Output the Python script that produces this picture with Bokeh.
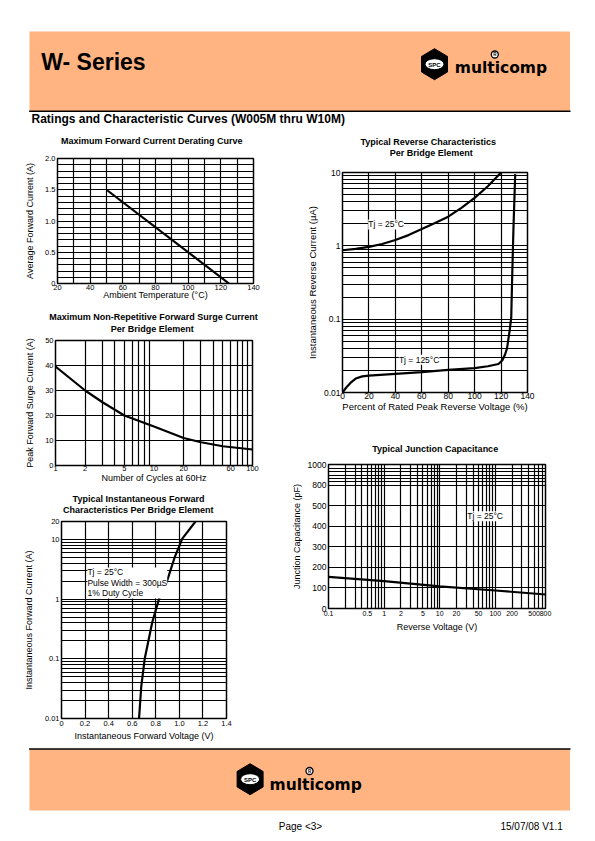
from bokeh.plotting import figure
from bokeh.layouts import column, row
from bokeh.models import FixedTicker, Label, Range1d, CustomJSTickFormatter
from bokeh.core.properties import value
from bokeh.embed import file_html
from bokeh.resources import INLINE

SANS = "Liberation Sans"
ORANGE = "#FFB482"

# ---------------- data ----------------
# Maximum Forward Current Derating Curve
derate_temp = [50, 125]
derate_current = [1.5, 0.0]
derate_xticks = [20, 40, 60, 80, 100, 120, 140]
derate_xlabels = ["20", "40", "60", "80", "100", "120", "140"]
derate_yticks = [0, 0.5, 1.0, 1.5, 2.0]
derate_ylabels = ["0", "0.5", "1.0", "1.5", "2.0"]

# Maximum Non-Repetitive Forward Surge Current
surge_cycles = [1, 2, 3, 5, 10, 20, 30, 50, 100]
surge_current = [39.6, 30.0, 25.3, 20.0, 15.6, 11.0, 9.3, 7.7, 6.4]
surge_xticks = [1, 2, 5, 10, 20, 60, 100]
surge_xlabels = ["1", "2", "5", "10", "20", "60", "100"]
surge_yticks = [0, 10, 20, 30, 40, 50]
surge_ylabels = ["0", "10", "20", "30", "40", "50"]

# Typical Instantaneous Forward Characteristics
fwd_voltage = [0.658, 0.677, 0.706, 0.77, 0.827, 0.897, 0.96, 1.025, 1.137]
fwd_current = [0.01, 0.035, 0.1, 0.41, 1.0, 2.05, 5.0, 10.3, 20.0]
fwd_xticks = [0, 0.2, 0.4, 0.6, 0.8, 1.0, 1.2, 1.4]
fwd_xlabels = ["0", "0.2", "0.4", "0.6", "0.8", "1.0", "1.2", "1.4"]
fwd_yticks = [0.01, 0.1, 1, 10, 20]
fwd_ylabels = ["0.01", "0.1", "1", "10", "20"]

# Typical Reverse Characteristics
rev25_pct = [0, 10, 20, 30, 40, 50, 60, 70, 80, 90, 100, 110, 120]
rev25_current = [0.87, 0.91, 0.97, 1.06, 1.2, 1.4, 1.7, 2.05, 2.5, 3.3, 4.5, 6.5, 10.0]
rev125_pct = [0, 3, 6, 10, 15, 20, 40, 60, 80, 100, 110, 118, 121, 123,
              124.5, 126.5, 127.7, 128.4, 129.4, 130.7]
rev125_current = [0.01, 0.0118, 0.0135, 0.0155, 0.0166, 0.017, 0.018, 0.019,
                  0.0203, 0.0215, 0.0228, 0.0245, 0.0275, 0.033, 0.04, 0.07,
                  0.106, 0.37, 1.8, 9.5]
rev_xticks = [0, 20, 40, 60, 80, 100, 120, 140]
rev_xlabels = ["0", "20", "40", "60", "80", "100", "120", "140"]
rev_yticks = [0.01, 0.1, 1, 10]
rev_ylabels = ["0.01", "0.1", "1", "10"]

# Typical Junction Capacitance
cap_voltage = [0.1, 1, 10, 100, 800]
cap_pf = [154, 133, 108, 87.5, 68]
cap_xticks = [0.1, 0.5, 1, 2, 5, 10, 20, 50, 100, 200, 500, 800]
cap_xlabels = ["0.1", "0.5", "1", "2", "5", "10", "20", "50", "100", "200", "500", "800"]
cap_yticks = [0, 100, 200, 300, 400, 500, 600, 700]
cap_ylabels = ["0", "100", "200", "300", "400", "500", "800", "1000"]
cap_extra_ygrid = [616, 632, 645, 664, 682]


def decades(exps, upto=9):
    return [m * 10.0 ** e for e in exps for m in range(1, upto + 1)]


def fmt(tick_values, tick_labels):
    return CustomJSTickFormatter(args=dict(tv=list(tick_values), tl=list(tick_labels)), code="""
        for (let i = 0; i < tv.length; i++) {
            if (Math.abs(tv[i] - tick) <= 1e-9 * Math.max(1, Math.abs(tv[i]))) return tl[i];
        }
        return "";
    """)


def canvas(w, h):
    p = figure(width=w, height=h, x_range=Range1d(0, w), y_range=Range1d(h, 0),
               x_axis_location=None, y_axis_location=None, toolbar_location=None,
               output_backend="svg", min_border=0, outline_line_color=None,
               title_location=None, frame_align=False)
    for g in p.grid:
        g.visible = False
    return p


def title_canvas(w, h, lines):
    p = canvas(w, h)
    for txt, cx, cy in lines:
        p.text(x=[cx], y=[cy], text=[txt], text_font=value(SANS), text_font_size="9px",
               text_font_style="bold", text_align="center", text_baseline="middle",
               text_color="black")
    return p


def logo(p, cx, cy, tx, ty):
    hw, hh = 13, 15.5
    p.patch(x=[cx, cx + hw, cx + hw, cx, cx - hw, cx - hw],
            y=[cy - hh, cy - hh / 2, cy + hh / 2, cy + hh, cy + hh / 2, cy - hh / 2],
            fill_color="black", line_color="black")
    p.ellipse(x=[cx], y=[cy], width=19, height=11, fill_color="white",
              line_color="black", line_width=1)
    p.text(x=[cx], y=[cy + 0.5], text=["SPC"], text_font=value(SANS), text_font_size="6px",
           text_font_style="bold", text_align="center", text_baseline="middle",
           text_color="black")
    p.text(x=[tx], y=[ty], text=["multicomp"], text_font=value("DejaVu Sans"),
           text_font_size="15.5px", text_font_style="bold", text_baseline="alphabetic",
           text_color="black")
    p.scatter(x=[tx + 40], y=[ty - 13.5], marker="circle", size=7, fill_color="white",
              line_color="black", line_width=1.3)
    p.text(x=[tx + 40], y=[ty - 13.3], text=["R"], text_font=value(SANS),
           text_font_size="4.5px", text_font_style="bold", text_align="center",
           text_baseline="middle", text_color="black")


def chart(w, h, borders, x_range, y_range, x_type, y_type,
          tick_font="7.5px", label_font="9px"):
    left, right, top, bottom = borders
    p = figure(width=w, height=h, x_range=x_range, y_range=y_range,
               x_axis_type=x_type, y_axis_type=y_type, toolbar_location=None,
               output_backend="svg", min_border_left=left, min_border_right=right,
               min_border_top=top, min_border_bottom=bottom, title_location=None,
               frame_align=False)
    p.outline_line_color = "black"
    p.outline_line_width = 1.5
    for ax in p.axis:
        ax.axis_line_color = None
        ax.major_tick_line_color = None
        ax.minor_tick_line_color = None
        ax.major_tick_out = 0
        ax.major_tick_in = 0
        ax.minor_tick_out = 0
        ax.minor_tick_in = 0
        ax.major_label_text_font = SANS
        ax.major_label_text_font_size = tick_font
        ax.major_label_text_color = "black"
        ax.axis_label_text_font = SANS
        ax.axis_label_text_font_size = label_font
        ax.axis_label_text_font_style = "normal"
        ax.axis_label_text_color = "black"
        ax.major_label_standoff = 2
    for g in p.grid:
        g.grid_line_color = "black"
        g.grid_line_width = 1.2
    return p


def set_ticks(p, xgrid, ygrid, xt, xl, yt, yl):
    p.xgrid[0].ticker = FixedTicker(ticks=xgrid)
    p.ygrid[0].ticker = FixedTicker(ticks=ygrid)
    p.xaxis[0].ticker = FixedTicker(ticks=xt)
    p.xaxis[0].formatter = fmt(xt, xl)
    p.yaxis[0].ticker = FixedTicker(ticks=yt)
    p.yaxis[0].formatter = fmt(yt, yl)


def axis_text(p, xlabel, ylabel, x_ls, x_as, y_ls, y_as):
    p.xaxis.axis_label = xlabel
    p.yaxis.axis_label = ylabel
    p.xaxis.major_label_standoff = x_ls
    p.xaxis.axis_label_standoff = x_as
    p.yaxis.major_label_standoff = y_ls
    p.yaxis.axis_label_standoff = y_as


# ---------------- header ----------------
head = canvas(595, 126)
head.quad(left=[29], right=[569.5], top=[31], bottom=[110.5], fill_color=ORANGE, line_color=None)
head.line(x=[28.6, 570], y=[110.8, 110.8], line_color="black", line_width=1.5)
head.text(x=[40.8], y=[61.8], text=["W- Series"], text_font=value(SANS),
          text_font_size="23px", text_font_style="bold", text_baseline="alphabetic",
          text_color="black")
logo(head, 434, 63.7, 454.3, 67.5)
head.text(x=[31], y=[118.5], text=["Ratings and Characteristic Curves (W005M thru W10M)"],
          text_font=value(SANS), text_font_size="12px", text_font_style="bold",
          text_baseline="middle", text_color="black")

# ---------------- chart 1 ----------------
t1 = title_canvas(288, 24, [("Maximum Forward Current Derating Curve", 151.3, 14)])
c1 = chart(288, 155, (57, 35, 8, 22), Range1d(20, 140), Range1d(0, 2.0), "linear", "linear")
set_ticks(c1, list(range(20, 141, 10)), [i / 10 for i in range(0, 21)],
          derate_xticks, derate_xlabels, derate_yticks, derate_ylabels)
axis_text(c1, "Ambient Temperature (°C)", "Average Forward Current (A)", 1, -3, 2, 7)
c1.line(derate_temp, derate_current, line_color="black", line_width=2.2)

# ---------------- chart 2 ----------------
t2 = title_canvas(288, 31, [("Maximum Non-Repetitive Forward Surge Current", 153, 11),
                            ("Per Bridge Element", 151.8, 23.3)])
c2 = chart(288, 154, (55, 36, 4, 25), Range1d(1, 100), Range1d(0, 50), "log", "linear")
set_ticks(c2, decades([0]) + [10 * m for m in range(2, 11)], list(range(0, 51, 10)),
          surge_xticks, surge_xlabels, surge_yticks, surge_ylabels)
axis_text(c2, "Number of Cycles at 60Hz", "Peak Forward Surge Current (A)", 0, -1, 2, 7)
c2.line(surge_cycles, surge_current, line_color="black", line_width=2.2)

# ---------------- chart 3 ----------------
t3 = title_canvas(288, 27, [("Typical Instantaneous Forward", 138, 8.3),
                            ("Characteristics Per Bridge Element", 137.7, 19)])
c3 = chart(288, 228, (61, 62, 4, 27), Range1d(0, 1.4), Range1d(0.01, 20), "linear", "log")
set_ticks(c3, fwd_xticks, decades([-2, -1, 0]) + [10, 20],
          fwd_xticks, fwd_xlabels, fwd_yticks, fwd_ylabels)
axis_text(c3, "Instantaneous Forward Voltage (V)", "Instantaneous Forward Current (A)",
          2, 2, 2, 8)
c3.line(fwd_voltage, fwd_current, line_color="black", line_width=2.2)
c3.add_layout(Label(x=0.22, y=3.4, text="Tj = 25°C\nPulse Width = 300µS\n1% Duty Cycle",
                    text_align="left", text_baseline="top", text_font=SANS,
                    text_font_size="8.5px", text_line_height=1.05, text_color="black",
                    background_fill_color="white"))

# ---------------- chart 4 ----------------
t4 = title_canvas(307, 40, [("Typical Reverse Characteristics", 139.7, 15.7),
                            ("Per Bridge Element", 142.8, 26.7)])
c4 = chart(307, 264, (54, 68, 6, 38), Range1d(0, 140), Range1d(0.01, 10), "linear", "log",
           tick_font="8.5px", label_font="9.5px")
set_ticks(c4, rev_xticks, decades([-2, -1, 0]) + [10],
          rev_xticks, rev_xlabels, rev_yticks, rev_ylabels)
axis_text(c4, "Percent of Rated Peak Reverse Voltage (%)",
          "Instantaneous Reverse Current (µA)", 0, -1, 2, 3)
c4.line(rev25_pct, rev25_current, line_color="black", line_width=2.2)
c4.line(rev125_pct, rev125_current, line_color="black", line_width=2.2)
c4.add_layout(Label(x=33, y=1.96, text="Tj = 25°C", text_align="center",
                    text_baseline="middle", text_font=SANS, text_font_size="8.5px",
                    text_color="black", background_fill_color="white"))
c4.add_layout(Label(x=58, y=0.028, text="Tj = 125°C", text_align="center",
                    text_baseline="middle", text_font=SANS, text_font_size="8.5px",
                    text_color="black", background_fill_color="white"))

# ---------------- chart 5 ----------------
t5 = title_canvas(307, 28, [("Typical Junction Capacitance", 146.7, 18.3)])
c5 = chart(307, 287, (38, 50, 6, 137), Range1d(0.1, 800), Range1d(0, 700), "log", "linear",
           tick_font="8.5px")
c5.xaxis.major_label_text_font_size = "7px"
set_ticks(c5, decades([-1, 0, 1]) + [100 * m for m in range(1, 9)],
          cap_yticks + cap_extra_ygrid,
          cap_xticks, cap_xlabels, cap_yticks, cap_ylabels)
axis_text(c5, "Reverse Voltage (V)", "Junction Capacitance (pF)", 2, 3, 2, 3)
c5.line(cap_voltage, cap_pf, line_color="black", line_width=2.2)
c5.add_layout(Label(x=65.5, y=448, text="Tj = 25°C", text_align="center",
                    text_baseline="middle", text_font=SANS, text_font_size="8.5px",
                    text_color="black", background_fill_color="white"))

# ---------------- footer ----------------
foot = canvas(595, 95)
foot.quad(left=[29], right=[569.5], top=[3.4], bottom=[65], fill_color=ORANGE, line_color=None)
foot.line(x=[28.6, 570], y=[3.4, 3.4], line_color="black", line_width=1.5)
logo(foot, 249.6, 33.7, 269, 39)
foot.text(x=[300], y=[81], text=["Page <3>"], text_font=value(SANS), text_font_size="10px",
          text_align="center", text_baseline="middle", text_color="black")
foot.text(x=[565], y=[81], text=["15/07/08  V1.1"], text_font=value(SANS),
          text_font_size="10px", text_align="right", text_baseline="middle",
          text_color="black")

left_col = column(t1, c1, t2, c2, t3, c3)
right_col = column(t4, c4, t5, c5)
page = column(head, row(left_col, right_col), foot)

open("out.html", "w").write(file_html(page, INLINE))
